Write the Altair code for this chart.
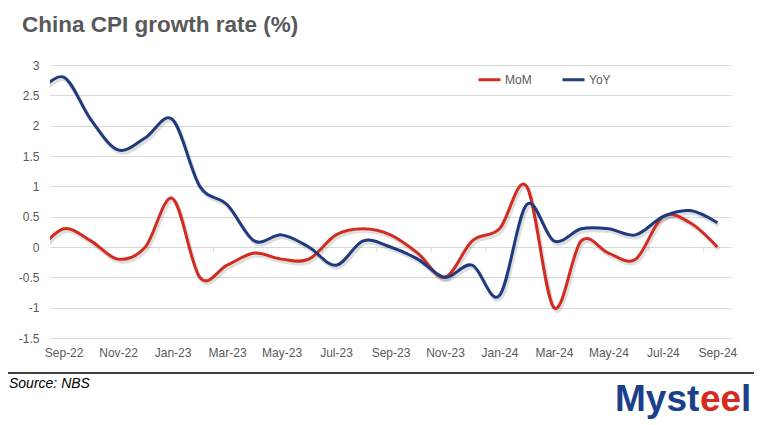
import altair as alt
import pandas as pd

# Months (Aug-22 is only partially visible at the left edge, clipped by the axis)
months = ["Aug-22", "Sep-22", "Oct-22", "Nov-22", "Dec-22", "Jan-23", "Feb-23", "Mar-23",
          "Apr-23", "May-23", "Jun-23", "Jul-23", "Aug-23", "Sep-23", "Oct-23", "Nov-23",
          "Dec-23", "Jan-24", "Feb-24", "Mar-24", "Apr-24", "May-24", "Jun-24", "Jul-24",
          "Aug-24", "Sep-24"]
mom = [-0.1, 0.3, 0.1, -0.2, 0.0, 0.8, -0.5, -0.3, -0.1, -0.2, -0.2, 0.2, 0.3, 0.2,
       -0.1, -0.5, 0.1, 0.3, 1.0, -1.0, 0.1, -0.1, -0.2, 0.5, 0.4, 0.0]
yoy = [2.5, 2.8, 2.1, 1.6, 1.8, 2.1, 1.0, 0.7, 0.1, 0.2, 0.0, -0.3, 0.1, 0.0,
       -0.2, -0.5, -0.3, -0.8, 0.7, 0.1, 0.3, 0.3, 0.2, 0.5, 0.6, 0.4]
series_names = ["MoM", "YoY"]
series_colors = ["#D22B1F", "#1F3A7E"]
y_ticks = [-1.5, -1, -0.5, 0, 0.5, 1, 1.5, 2, 2.5, 3]
x_label_idx = list(range(0, 25, 2))
x_tick_pos = [i + 0.5 for i in range(1, 24, 2)]

rows = []
for i, m in enumerate(months):
    rows.append({"idx": i - 1, "month": m, "series": "MoM", "value": mom[i]})
    rows.append({"idx": i - 1, "month": m, "series": "YoY", "value": yoy[i]})
df = pd.DataFrame(rows)

label_arr = "[" + ",".join("'" + m + "'" for m in months[1:]) + "]"

FONT = "Liberation Sans"
GREY = "#595959"

x_scale = alt.Scale(domain=[-0.5, 24.5], nice=False, zero=False)
y_scale = alt.Scale(domain=[-1.5, 3], nice=False)
x_axis = alt.Axis(values=x_label_idx, labelExpr=label_arr + "[datum.value]",
                  grid=False, ticks=False, domain=False, labelPadding=9,
                  labelFont=FONT, labelFontSize=12, labelColor=GREY, title=None)
y_axis = alt.Axis(values=y_ticks, labelExpr="'' + datum.value", grid=True,
                  gridColor="#D9D9D9", gridWidth=1, ticks=False, domain=False,
                  labelPadding=11, labelFont=FONT, labelFontSize=12,
                  labelColor=GREY, title=None)

base = alt.Chart(df)

shadow = base.mark_line(interpolate="cardinal", clip=True, strokeWidth=4, color="#000000",
                        opacity=0.13, xOffset=1.5, yOffset=2.5).encode(
    x=alt.X("idx:Q", scale=x_scale, axis=x_axis),
    y=alt.Y("value:Q", scale=y_scale, axis=y_axis),
    detail="series:N",
)

lines = base.mark_line(interpolate="cardinal", clip=True, strokeWidth=3).encode(
    x=alt.X("idx:Q", scale=x_scale, axis=x_axis),
    y=alt.Y("value:Q", scale=y_scale, axis=y_axis),
    color=alt.Color("series:N", scale=alt.Scale(domain=series_names, range=series_colors),
                    legend=alt.Legend(orient="none", legendX=427, legendY=2,
                                      direction="horizontal", title=None,
                                      symbolType="stroke", symbolStrokeWidth=3,
                                      symbolSize=484, labelFont=FONT, labelFontSize=12,
                                      labelColor=GREY, columnPadding=24, labelOffset=3)),
)

tick_df = pd.DataFrame({"idx": x_tick_pos, "value": [0.0] * len(x_tick_pos),
                        "value2": [-0.08] * len(x_tick_pos)})
ticks = alt.Chart(tick_df).mark_rule(color="#D9D9D9", strokeWidth=1).encode(
    x=alt.X("idx:Q", scale=x_scale, axis=x_axis),
    y=alt.Y("value:Q", scale=y_scale, axis=y_axis),
    y2="value2:Q",
)

one = pd.DataFrame({"a": [1]})
title = alt.Chart(one).mark_text(text="China CPI growth rate (%)", font=FONT, fontSize=22.5,
                                 fontWeight="bold", color=GREY, align="left",
                                 baseline="alphabetic").encode(
    x=alt.value(-28), y=alt.value(-33))
source = alt.Chart(one).mark_text(text="Source: NBS", font=FONT, fontSize=14,
                                  fontStyle="italic", color="#000000", align="left",
                                  baseline="alphabetic").encode(
    x=alt.value(-41), y=alt.value(323))
hr = alt.Chart(one).mark_rule(color="#000000", strokeWidth=1.5).encode(
    x=alt.value(-42), x2=alt.value(704), y=alt.value(308))
logo1 = alt.Chart(one).mark_text(text="Myst", font=FONT, fontSize=37, fontWeight="bold",
                                 color="#1B3F8B", align="left", baseline="alphabetic").encode(
    x=alt.value(565), y=alt.value(346))
logo2 = alt.Chart(one).mark_text(text="ee", font=FONT, fontSize=37, fontWeight="bold",
                                 color="#D52B1E", align="left", baseline="alphabetic").encode(
    x=alt.value(650), y=alt.value(346))
logo3 = alt.Chart(one).mark_text(text="l", font=FONT, fontSize=37, fontWeight="bold",
                                 color="#1B3F8B", align="left", baseline="alphabetic").encode(
    x=alt.value(691), y=alt.value(346))

chart = alt.layer(ticks, shadow, lines, title, source, hr, logo1, logo2, logo3).properties(
    width=681, height=273,
    autosize=alt.AutoSizeParams(type="none"),
    padding={"left": 42, "top": 57, "right": 23, "bottom": 86},
    background="white",
).configure_view(stroke=None)

chart.save("out.html", embed_options={"renderer": "svg", "actions": False})
